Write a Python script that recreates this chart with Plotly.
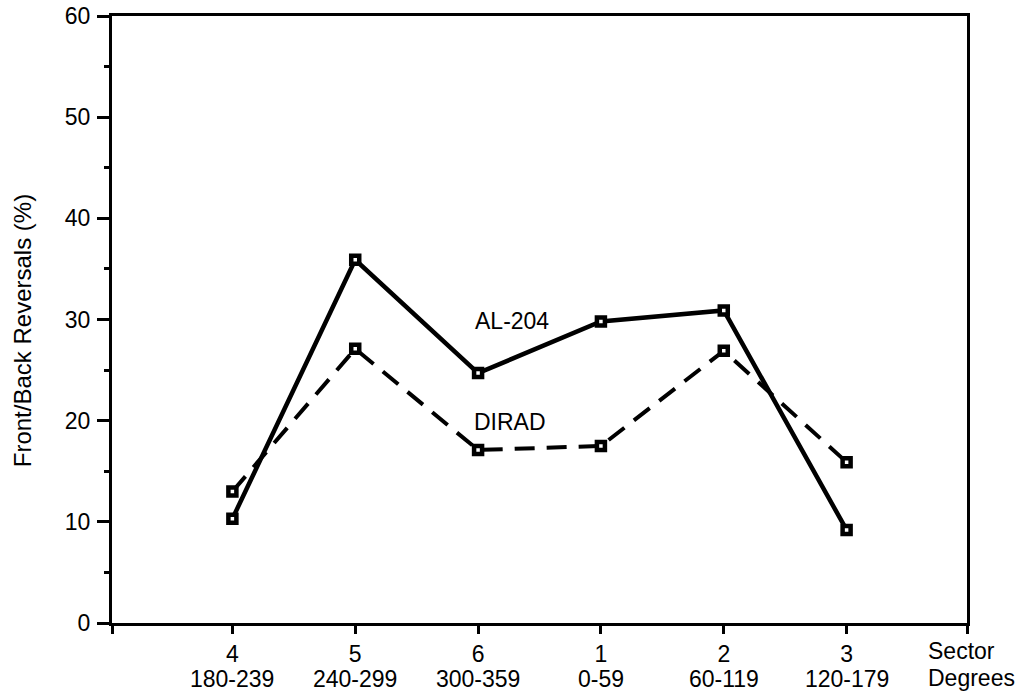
import plotly.graph_objects as go

# Sector order along the horizontal axis
sectors = ["4", "5", "6", "1", "2", "3"]
degree_ranges = ["180-239", "240-299", "300-359", "0-59", "60-119", "120-179"]

# Front/back reversal rates (%) per sector
al204 = [10.3, 35.9, 24.7, 29.8, 30.9, 9.2]
dirad = [13.0, 27.1, 17.1, 17.5, 26.9, 15.9]

x_pos = list(range(len(sectors)))
x_lo, x_hi = -0.98, 5.98

FONT = "Liberation Sans, Arial, Helvetica, sans-serif"
FS = 23

fig = go.Figure()

marker_style = dict(symbol="square", size=8, color="white",
                    line=dict(color="black", width=4.5))

fig.add_trace(go.Scatter(
    x=x_pos, y=dirad, mode="lines+markers", name="DIRAD",
    line=dict(color="black", width=4, dash="20px,12px"),
    marker=marker_style,
))
fig.add_trace(go.Scatter(
    x=x_pos, y=al204, mode="lines+markers", name="AL-204",
    line=dict(color="black", width=4.5),
    marker=marker_style,
))

# Sector numbers sit on the ticks; end ticks carry no label
tick_vals = [x_lo] + x_pos + [x_hi]
tick_text = [""] + sectors + [""]

annotations = [
    dict(text="Front/Back Reversals (%)", xref="paper", yref="paper",
         x=-0.105, y=0.481, xanchor="center", yanchor="middle",
         textangle=-90, showarrow=False, font=dict(size=24)),
    dict(text="Sector", xref="paper", yref="paper",
         x=(926 - 112) / 855, y=0, xanchor="left", yanchor="middle",
         yshift=-28, showarrow=False, font=dict(size=FS)),
    dict(text="Degrees", xref="paper", yref="paper",
         x=(926 - 112) / 855, y=0, xanchor="left", yanchor="middle",
         yshift=-55, showarrow=False, font=dict(size=FS)),
    dict(text="AL-204", x=2.28, y=29.85, xref="x", yref="y",
         showarrow=False, font=dict(size=FS)),
    dict(text="DIRAD", x=2.26, y=19.9, xref="x", yref="y",
         showarrow=False, font=dict(size=FS)),
]
# Degree range under each sector number
for xp, rng in zip(x_pos, degree_ranges):
    annotations.append(dict(
        text=rng, x=xp, xref="x", y=0, yref="paper",
        xanchor="center", yanchor="middle", yshift=-56,
        showarrow=False, font=dict(size=FS),
    ))

fig.update_layout(
    width=1018, height=697,
    margin=dict(l=112, r=51, t=16, b=74),
    paper_bgcolor="white", plot_bgcolor="white",
    showlegend=False,
    font=dict(family=FONT, size=FS, color="black"),
    xaxis=dict(
        range=[x_lo, x_hi], tickvals=tick_vals, ticktext=tick_text,
        ticks="outside", ticklen=8, tickwidth=2.5, tickcolor="black",
        showline=True, linewidth=3, linecolor="black", mirror=True,
        showgrid=False, zeroline=False, automargin=False,
        tickfont=dict(family=FONT, size=FS), ticklabelstandoff=0,
    ),
    yaxis=dict(
        range=[0, 60], tickvals=[0, 10, 20, 30, 40, 50, 60],
        ticks="outside", ticklen=12, tickwidth=2.5, tickcolor="black",
        minor=dict(dtick=5, ticks="outside", ticklen=5, tickwidth=2.5,
                   tickcolor="black", showgrid=False),
        showline=True, linewidth=3, linecolor="black", mirror=True,
        showgrid=False, zeroline=False, automargin=False,
        tickfont=dict(family=FONT, size=FS), ticklabelstandoff=2,
    ),
    annotations=annotations,
)

fig.write_html("out.html")
